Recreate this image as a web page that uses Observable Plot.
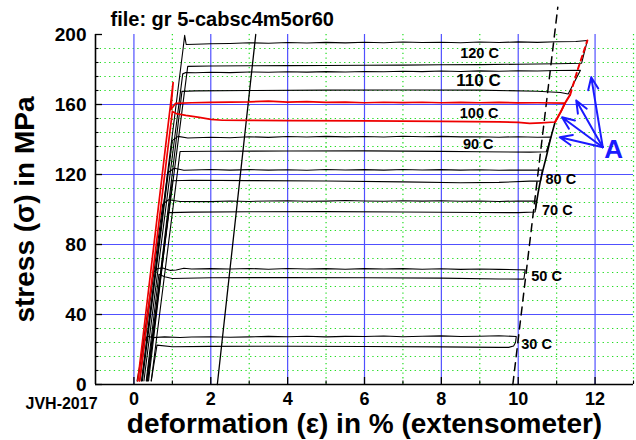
<!DOCTYPE html>
<html><head><meta charset="utf-8">
<script src="https://cdn.jsdelivr.net/npm/d3@7"></script>
<script src="https://cdn.jsdelivr.net/npm/@observablehq/plot@0.6"></script>
<style>
html,body{margin:0;padding:0;background:#fff;}
#chart svg{display:block;}
</style></head><body><div id="chart"></div>
<script>
// ---- tick values ----
const xTicks = [0, 2, 4, 6, 8, 10, 12];
const xMinor = [1, 3, 5, 7, 9, 11, 13];
const yTicks = [0, 40, 80, 120, 160, 200];
const yBlue = [40, 80, 120, 160];
const yMinor = [8, 16, 24, 32, 48, 56, 64, 72, 88, 96, 104, 112, 128, 136, 144, 152, 168, 176, 184, 192];

// ---- test curves [strain %, stress MPa] ----
const c120 = [[0.20,2],[1.28,192],[1.32,199.5],[1.36,194.3],[1.6,194.4],[2,194.7],[2.5,194.9],[3,195.3],[3.5,195.0],[4,195.4],[4.5,195.1],[5,195.5],[5.5,195.2],[6,195.6],[6.5,195.3],[7,195.7],[7.5,195.4],[8,195.6],[8.5,195.3],[9,195.7],[9.5,195.4],[10,195.8],[10.5,195.5],[11,195.9],[11.5,196.0],[11.8,196.6],[11.65,183.6],[11,183.3],[10,183.0],[9,182.8],[8,182.7],[7,182.5],[6,182.4],[5,182.3],[4,182.2],[3,182.1],[2,182.0],[1.4,181.8],[0.35,2]];
const c110 = [[0.26,2],[1.27,177.5],[1.35,178.3],[1.6,178.1],[2,178.4],[2.5,178.2],[3,178.6],[3.5,178.4],[4,178.7],[4.5,178.5],[5,178.8],[5.5,178.6],[6,178.9],[6.5,178.7],[7,179.0],[7.5,178.8],[8,179.1],[8.5,178.9],[9,179.2],[9.5,179.0],[10,179.3],[10.5,179.1],[11,179.4],[11.62,179.6],[11.3,166],[11.1,166.9],[10.5,167.6],[9,168.2],[7,168.3],[5,168.2],[3,168.0],[1.6,167.8],[1.25,167.5],[0.36,2]];
const c100 = [[0.10,2],[1.02,172.5],[0.96,157],[1.08,160.6],[1.5,161.0],[2,161.2],[2.5,161.4],[3,161.5],[3.5,161.9],[4,161.4],[4.5,161.6],[5,161.2],[5.5,161.4],[6,161.0],[6.5,161.3],[7,161.1],[7.5,161.3],[8,161.0],[8.5,161.2],[9,161.0],[9.5,161.2],[10,160.9],[10.5,161.0],[11.22,160.8],[11.1,155.5],[10.96,150.0],[10.6,149.5],[10.3,149.2],[10,149.8],[9.5,150.1],[8,150.4],[6,150.6],[4,150.8],[3,150.9],[2.3,151.0],[2,151.5],[1.7,152.6],[1.35,153.8],[1.1,154.8],[1.0,156],[0.15,2]];
const c90 = [[0.22,2],[1.0,139.5],[1.15,141.8],[1.4,140.9],[2,141.3],[2.5,141.0],[3,141.6],[3.5,141.2],[4,141.7],[4.5,141.4],[5,141.8],[5.5,141.5],[6,141.7],[6.5,141.4],[7,141.9],[7.5,141.6],[8,141.8],[8.5,141.5],[9,141.6],[9.5,141.3],[10,141.6],[10.5,141.3],[10.85,141.4],[10.79,137],[10.73,133],[10.3,132.8],[9,133.0],[8,133.2],[6,133.5],[4,133.4],[2,133.3],[1.2,133.1],[0.45,2]];
const c80 = [[0.20,2],[0.88,121],[1.05,123.6],[1.3,122.4],[2,122.9],[2.5,122.5],[3,122.8],[3.5,122.5],[4,122.7],[4.5,122.4],[5,122.9],[5.5,122.6],[6,122.8],[6.5,122.5],[7,122.9],[7.5,122.6],[8,122.8],[8.5,122.5],[9,122.7],[9.5,122.4],[10,122.6],[10.63,122.5],[10.58,116.2],[10.3,116.2],[9.5,115.5],[8.5,115.3],[7,115.8],[5,116.3],[3,116.5],[1.5,116.7],[1.0,116.4],[0.38,2]];
const c70 = [[0.15,2],[0.75,103],[0.9,105.6],[1.2,104.6],[2,104.5],[2.5,104.9],[3,104.6],[3.5,104.9],[4,105.0],[4.5,104.7],[5,104.8],[5.5,105.1],[6,104.9],[6.5,104.7],[7,105.0],[7.5,104.8],[8,105.0],[8.5,104.7],[9,104.9],[9.5,104.6],[10,104.9],[10.47,104.8],[10.44,98.6],[10,98.2],[9,98.3],[7,98.6],[5,98.8],[3,98.7],[1.5,98.5],[0.9,98.2],[0.33,2]];
const c50 = [[0.10,2],[0.5,64],[0.62,66.3],[0.75,66.6],[0.95,65.2],[1.1,65.4],[1.3,66.4],[1.5,66.0],[2,66.2],[2.5,66.0],[3,66.3],[3.5,65.9],[4,66.3],[4.5,66.0],[5,66.2],[5.5,65.9],[6,66.2],[6.5,66.0],[7,66.2],[7.5,65.9],[8,66.1],[8.5,65.8],[9,66.0],[9.5,65.8],[10,65.6],[10.18,65.5],[10.15,60.5],[10.12,60.2],[9.5,60.3],[8,60.8],[6,61.0],[4,61.1],[2,61.0],[1.0,60.6],[0.8,61.6],[0.65,63],[0.32,2]];
const c30 = [[0.08,2],[0.26,24],[0.35,27.6],[0.5,26.8],[0.8,27.2],[1.2,26.9],[1.5,27.1],[2,27.3],[2.5,27.0],[3,27.2],[3.5,27.5],[4,27.3],[4.5,27.6],[5,27.2],[5.5,27.5],[6,27.4],[6.5,27.7],[7,27.3],[7.5,27.6],[8,27.8],[8.5,27.4],[9,27.6],[9.5,27.9],[9.95,27.4],[9.93,24],[9.88,22],[9.75,21.2],[9.5,21.2],[8,21.5],[6,21.7],[4,21.9],[2,21.8],[1,21.6],[0.6,22.5],[0.45,2]];

const testNames = ["120 C","110 C","100 C","90 C","80 C","70 C","50 C","30 C"];
const testCurves = [c120, c110, c100, c90, c80, c70, c50, c30];

// other lines
const steepLine = [[2.17,0],[3.17,200]];
const dashedLine = [[9.86,0],[11.03,215.6]];
const locusBlack = [[10.45,100],[10.53,111],[10.62,120.4],[10.73,130],[10.83,139.4],[10.96,150]];
const locusRed = [[10.96,150],[11.1,155.5],[11.22,160.8],[11.35,165.5]];
const locusRedDashed = [[11.35,165.5],[11.55,180],[11.8,196.6]];

// labels
const labelText = ["120 C","110 C","100 C","90 C","80 C","70 C","50 C","30 C"];
const labelX = [8.49, 8.39, 8.48, 8.56, 10.71, 10.62, 10.34, 10.08];
const labelY = [189, 173.7, 155, 137.1, 117.5, 99.4, 61.7, 23.2];

// arrows "A"
const arrowOrigin = [12.2, 135.6];
const arrowTips = [[11.9,175.6],[11.51,162.3],[11.14,152.7],[11.08,141.3]];
const aLabel = {text: "A", x: 12.48, y: 134};

// ---- build tables ----
const rows = [];
testNames.forEach((name, i) => testCurves[i].forEach((p, j) => rows.push({test: name, i: j, x: p[0], y: p[1]})));
const toRows = (arr) => arr.map(p => ({x: p[0], y: p[1]}));
const labels = labelText.map((t, i) => ({text: t, x: labelX[i], y: labelY[i]}));

const FONT = '"Liberation Sans", Arial, Helvetica, sans-serif';
const BLUE = "#5050ff";
const GREEN = "#22dd22";
const RED = "#ee0000";

const chart = Plot.plot({
  width: 636, height: 440,
  marginLeft: 95, marginRight: 3, marginTop: 34, marginBottom: 56,
  x: {domain: [-1, 13]},
  y: {domain: [0, 200]},
  style: {fontFamily: FONT, background: "white", color: "black"},
  marks: [
    // grid
    Plot.ruleX(xMinor, {stroke: GREEN, strokeWidth: 1.2, strokeDasharray: "1.3,3.4"}),
    Plot.ruleY(yMinor, {stroke: GREEN, strokeWidth: 1.2, strokeDasharray: "1.3,3.4"}),
    Plot.ruleX(xTicks, {stroke: BLUE, strokeWidth: 1.2}),
    Plot.ruleY(yBlue, {stroke: BLUE, strokeWidth: 1.2}),
    // curves
    Plot.line(rows.filter(d => d.test !== "100 C"), {x: "x", y: "y", z: "test", stroke: "black", strokeWidth: 1.1, curve: "linear"}),
    Plot.line(toRows(steepLine), {x: "x", y: "y", stroke: "black", strokeWidth: 1.3}),
    Plot.line(toRows(dashedLine), {x: "x", y: "y", stroke: "black", strokeWidth: 1.5, strokeDasharray: "8,6"}),
    Plot.line(toRows(locusBlack), {x: "x", y: "y", stroke: "black", strokeWidth: 1.6, curve: "catmull-rom"}),
    Plot.line(rows.filter(d => d.test === "100 C"), {x: "x", y: "y", stroke: RED, strokeWidth: 1.7}),
    Plot.line(toRows(locusRed), {x: "x", y: "y", stroke: RED, strokeWidth: 2, curve: "catmull-rom"}),
    Plot.line(toRows(locusRedDashed), {x: "x", y: "y", stroke: RED, strokeWidth: 2, strokeDasharray: "5,4"}),
    // temperature labels
    Plot.text(labels, {x: "x", y: "y", text: "text", textAnchor: "start", fontWeight: "bold",
      fontSize: d => d.text === "110 C" ? 17 : 14.5, fill: "black"}),
    // arrows and A
    Plot.arrow(arrowTips, {x1: () => arrowOrigin[0], y1: () => arrowOrigin[1], x2: d => d[0], y2: d => d[1],
      stroke: "#1a1aff", strokeWidth: 2, headLength: 10, headAngle: 45}),
    Plot.text([aLabel], {x: "x", y: "y", text: "text", fontSize: 26, fontWeight: "bold", fill: "#1a1aff"}),
    // axes lines
    Plot.ruleX([-1], {stroke: "black", strokeWidth: 1.6}),
    Plot.ruleY([0], {stroke: "black", strokeWidth: 1.6}),
    // inward ticks
    Plot.ruleX(xTicks, {stroke: "black", strokeWidth: 1.3, insetTop: 343}),
    Plot.ruleX(xMinor, {stroke: "black", strokeWidth: 1.1, insetTop: 346.5}),
    Plot.ruleY(yTicks, {stroke: "black", strokeWidth: 1.3, insetRight: 531}),
    Plot.ruleY(yMinor, {stroke: "black", strokeWidth: 1.1, insetRight: 534.5}),
    // tick labels
    Plot.axisX({ticks: xTicks, tickSize: 0, tickPadding: 8, fontSize: 18, fontWeight: "bold", label: null, tickFormat: d => String(d)}),
    Plot.axisY({ticks: yTicks, tickSize: 0, tickPadding: 9, fontSize: 19, fontWeight: "bold", label: null, tickFormat: d => String(d)}),
    // axis titles
    Plot.text(["deformation (ε) in % (extensometer)"], {frameAnchor: "bottom", lineAnchor: "middle", textAnchor: "middle", dy: 39.5, fontSize: 28, fontWeight: "bold", text: d => d}),
    Plot.text(["stress (σ) in MPa"], {frameAnchor: "left", lineAnchor: "middle", textAnchor: "middle", dx: -70, rotate: -90, fontSize: 28, fontWeight: "bold", text: d => d}),
    Plot.text(["file: gr 5-cabsc4m5or60"], {frameAnchor: "top-left", lineAnchor: "middle", dx: 15, dy: -15, textAnchor: "start", fontSize: 20, fontWeight: "bold", text: d => d}),
    Plot.text(["JVH-2017"], {frameAnchor: "bottom-left", lineAnchor: "middle", dx: -70, dy: 19, textAnchor: "start", fontSize: 16, fontWeight: "bold", text: d => d})
  ]
});
document.getElementById("chart").append(chart);
</script></body></html>
